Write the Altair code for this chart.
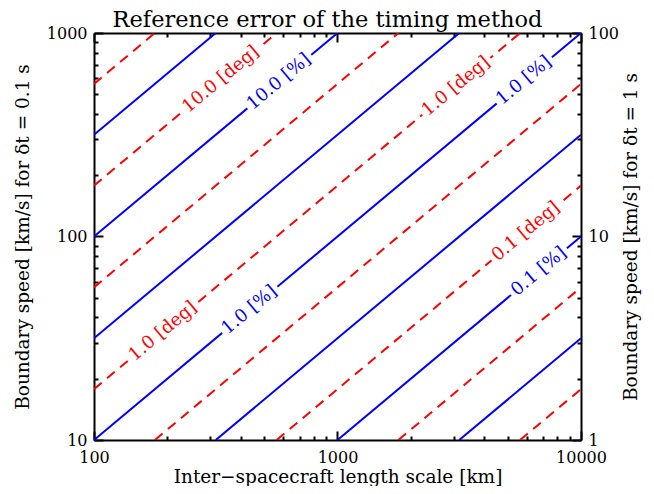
import math
import altair as alt
import pandas as pd

# ---------------- data ----------------
x_domain = [100, 10000]          # inter-spacecraft length scale [km]
y_domain = [10, 1000]            # boundary speed [km/s] for dt = 0.1 s
x_major = [100, 1000, 10000]
y_major = [10, 100, 1000]
x_minor = [200, 300, 400, 500, 600, 700, 800, 900,
           2000, 3000, 4000, 5000, 6000, 7000, 8000, 9000]
y_minor = [20, 30, 40, 50, 60, 70, 80, 90,
           200, 300, 400, 500, 600, 700, 800, 900]

# contour levels as log10(speed / length) ratio
blue_exps = [0.5, 0.0, -0.5, -1.0, -1.5, -2.0, -2.5]          # percent error contours
red_exps = [0.75, 0.25, -0.25, -0.75, -1.25, -1.75, -2.25, -2.75]  # angle error contours

label_texts = ["10.0 [deg]", "10.0 [%]", "1.0 [deg]", "1.0 [%]",
               "1.0 [deg]", "1.0 [%]", "0.1 [deg]", "0.1 [%]"]
label_kind = ["deg", "pct", "deg", "pct", "deg", "pct", "deg", "pct"]
label_exps = [0.25, 0.0, -0.75, -1.0, -0.75, -1.0, -1.75, -2.0]
label_x = [332, 575, 3070, 5830, 192, 435, 5940, 6720]

FONT = "DejaVu Serif"
W, H = 487, 407


def contour_rows(exps, kind):
    rows = []
    for i, e in enumerate(exps):
        c = 10 ** e
        x0 = max(x_domain[0], y_domain[0] / c)
        x1 = min(x_domain[1], y_domain[1] / c)
        rows.append({"line": f"{kind}{i}", "kind": kind, "x": x0, "y": c * x0})
        rows.append({"line": f"{kind}{i}", "kind": kind, "x": x1, "y": c * x1})
    return rows


red_df = pd.DataFrame(contour_rows(red_exps, "deg"))
blue_df = pd.DataFrame(contour_rows(blue_exps, "pct"))
lab_df = pd.DataFrame({
    "text": label_texts,
    "kind": label_kind,
    "x": label_x,
    "y": [x * 10 ** e for x, e in zip(label_x, label_exps)],
})

xs = alt.Scale(type="log", domain=x_domain, nice=False)
ys = alt.Scale(type="log", domain=y_domain, nice=False)
angle = 360 - math.degrees(math.atan((H / 2) / (W / 2)))

major_test = "abs(log(datum.value)/LN10 - round(log(datum.value)/LN10)) < 0.001"
tick_size = {"condition": {"test": major_test, "value": 9}, "value": 4}
x_ticks = x_major + x_minor
y_ticks = y_major + y_minor

color_scale = alt.Scale(domain=["deg", "pct"], range=["#ff0000", "#0000ff"])
LABEL_SIZE = 18

# layer 1: red dashed contours, bottom labels axis + left labels axis
red = alt.Chart(red_df).mark_line(color="#ff0000", strokeWidth=2, strokeDash=[10, 7], clip=True).encode(
    x=alt.X("x:Q", scale=xs, axis=alt.Axis(
        orient="bottom", values=x_major, tickSize=0, labelPadding=9, format="d",
        labelFlush=False,
        title="Inter\u2212spacecraft length scale [km]", titleY=42,
        titleBaseline="alphabetic", domain=True)),
    y=alt.Y("y:Q", scale=ys, axis=alt.Axis(
        orient="left", values=y_major, tickSize=0, labelPadding=7, format="d",
        labelFlush=False,
        title="Boundary speed [km/s] for \u03b4t = 0.1 s", titlePadding=14, domain=True)),
    detail="line:N",
)

# layer 2: blue solid contours, top inward ticks + right labels axis
blue = alt.Chart(blue_df).mark_line(color="#0000ff", strokeWidth=2, clip=True).encode(
    x=alt.X("x:Q", scale=xs, axis=alt.Axis(
        orient="bottom", offset=-H, values=x_ticks, tickSize=tick_size, labels=False,
        title=None, domain=True)),
    y=alt.Y("y:Q", scale=ys, axis=alt.Axis(
        orient="right", values=y_major, tickSize=0, labelPadding=7, labelFlush=False,
        labelExpr="format(datum.value / 10, 'd')",
        title="Boundary speed [km/s] for \u03b4t = 1 s", titleAngle=270, titlePadding=22,
        domain=True)),
    detail="line:N",
)

# layer 3: white halo behind labels, bottom inward ticks + left inward ticks
halo = alt.Chart(lab_df).mark_text(
    font=FONT, fontSize=LABEL_SIZE, angle=angle, baseline="middle", align="center",
    fill="white", stroke="white", strokeWidth=10,
).encode(
    x=alt.X("x:Q", scale=xs, axis=alt.Axis(
        orient="top", offset=-H, values=x_ticks, tickSize=tick_size, labels=False,
        title=None, domain=False)),
    y=alt.Y("y:Q", scale=ys, axis=alt.Axis(
        orient="right", offset=-W, values=y_ticks, tickSize=tick_size, labels=False,
        title=None, domain=False)),
    text="text:N",
)

# layer 4: labels, right inward ticks
labels = alt.Chart(lab_df).mark_text(
    font=FONT, fontSize=LABEL_SIZE, angle=angle, baseline="middle", align="center",
).encode(
    x=alt.X("x:Q", scale=xs, axis=None),
    y=alt.Y("y:Q", scale=ys, axis=alt.Axis(
        orient="left", offset=-W, values=y_ticks, tickSize=tick_size, labels=False,
        title=None, domain=False)),
    text="text:N",
    color=alt.Color("kind:N", scale=color_scale, legend=None),
)

chart = alt.layer(red, blue, halo, labels).resolve_axis(
    x="independent", y="independent"
).properties(
    width=W, height=H,
    autosize=alt.AutoSizeParams(type="none"),
    padding={"left": 86, "top": 25, "right": 65, "bottom": 46},
    title=alt.TitleParams(
        "Reference error of the timing method", font=FONT, fontSize=22.5,
        fontWeight="normal", color="black", anchor="middle",
        dx=-10, dy=6, offset=0),
).configure_view(stroke=None).configure_axis(
    grid=False,
    labelFont=FONT, labelFontSize=16, labelColor="black",
    titleFont=FONT, titleFontSize=18.5, titleFontWeight="normal", titleColor="black",
    tickColor="black", tickWidth=2, domainColor="black", domainWidth=2,
)

chart.save("out.html", embed_options={"renderer": "svg", "actions": False})
